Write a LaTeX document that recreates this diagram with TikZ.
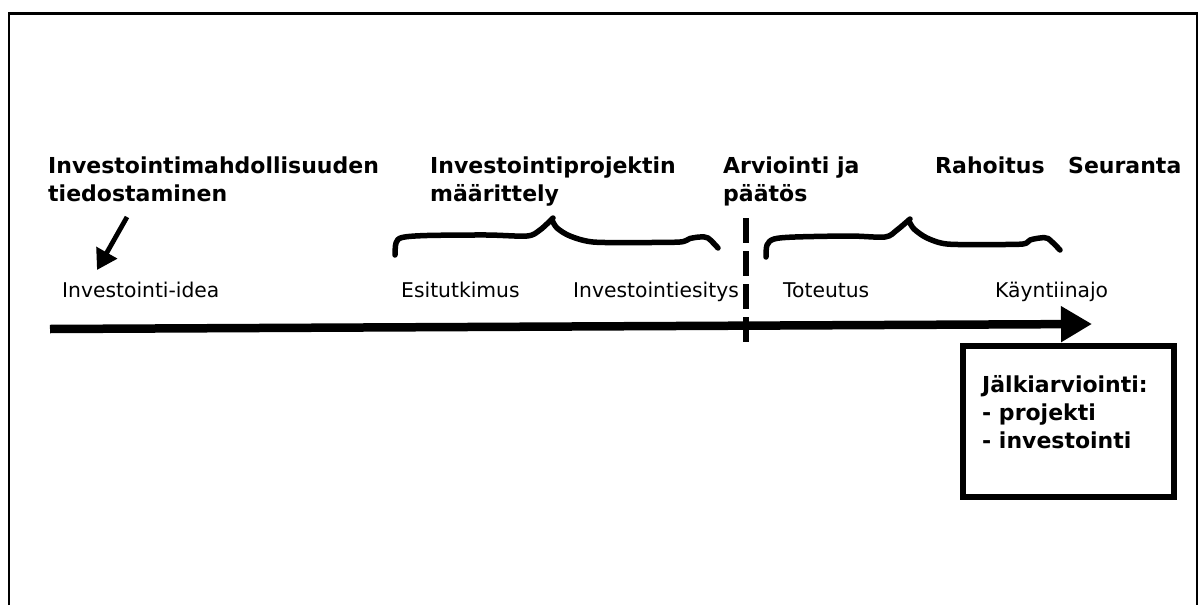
\documentclass[tikz,border=0pt]{standalone}
\usepackage{fontspec}
\setmainfont{DejaVu Sans}
\usetikzlibrary{arrows.meta}
\tikzset{
  title/.style={anchor=base west, inner sep=0pt, font=\fontsize{22}{28}\selectfont\bfseries},
  label/.style={anchor=base west, inner sep=0pt, font=\fontsize{20.3}{26}\selectfont},
  boxtext/.style={anchor=base west, inner sep=0pt, font=\fontsize{22}{28}\selectfont\bfseries},
  frame/.style={line width=2.2pt, black},
  axis/.style={line width=8.5pt, -{Triangle[length=31pt, width=34pt]}},
  divider/.style={line width=5.5pt, dash pattern=on 25pt off 8pt},
  bracestroke/.style={line width=5.5pt, line cap=round, line join=round},
  pointer/.style={line width=4.8pt, -{Triangle[length=20pt, width=23pt]}},
  resultbox/.style={draw, line width=6pt, minimum width=211pt, minimum height=151pt, inner sep=0pt}
}
\begin{document}
\begin{tikzpicture}[x=1pt, y=-1pt]
\useasboundingbox (0,0) rectangle (1199,605);
% outer frame (open at the bottom)
\coordinate (fBL) at (9,605);
\coordinate (fTL) at (9,13.5);
\coordinate (fTR) at (1197,13.5);
\coordinate (fBR) at (1197,605);
\draw[frame] (fBL) -- (fTL) -- (fTR) -- (fBR);

% titles
\node[title] (t1a) at (48,173) {Investointimahdollisuuden};
\node[title] (t1b) at (48,201) {tiedostaminen};
\node[title] (t2a) at (430,173) {Investointiprojektin};
\node[title] (t2b) at (430,201) {määrittely};
\node[title] (t3a) at (723,173) {Arviointi ja};
\node[title] (t3b) at (723,201) {päätös};
\node[title] (t4) at (935,173) {Rahoitus};
\node[title] (t5) at (1068,173) {Seuranta};

% labels
\node[label] (l1) at (62,297) {Investointi-idea};
\node[label] (l2) at (401,297) {Esitutkimus};
\node[label] (l3) at (573,297) {Investointiesitys};
\node[label] (l4) at (783,297) {Toteutus};
\node[label] (l5) at (995,297) {Käyntiinajo};

% pointer arrow
\coordinate (pS) at (127,217);
\coordinate (pE) at (97,270);
\draw[pointer] (pS) -- (pE);

% main axis
\coordinate (axL) at (50,329);
\coordinate (axR) at (1092,324);
\draw[axis] (axL) -- (axR);

% dashed divider
\coordinate (dT) at (746,218);
\coordinate (dB) at (746,343);
\draw[divider] (dT) -- (dB);

% brace 1
\draw[bracestroke] plot[smooth, tension=0.5] coordinates {(395,255) (396,243) (402,237.5) (427,235.5) (487,235) (527,236) (540,230) (553,218)};
\draw[bracestroke] plot[smooth, tension=0.5] coordinates {(552,220) (557,228) (570,236) (593,242) (640,242.5) (680,242) (690,238.5) (700,237) (708,238) (718,248)};

% brace 2
\draw[bracestroke] plot[smooth, tension=0.5] coordinates {(766,257) (767,245) (774,239) (795,237) (850,236) (885,237) (897,230) (910,219)};
\draw[bracestroke] plot[smooth, tension=0.5] coordinates {(909,221) (914,229) (927,238) (947,244) (990,244.5) (1023,244) (1030,240) (1040,238) (1048,238.5) (1060,250)};

% result box
\node[resultbox] (box) at (1068.5,421.5) {};
\node[boxtext] (b1) at (982,392) {Jälkiarviointi:};
\node[boxtext] (b2) at (982,420) {- projekti};
\node[boxtext] (b3) at (982,448) {- investointi};
\end{tikzpicture}
\end{document}
